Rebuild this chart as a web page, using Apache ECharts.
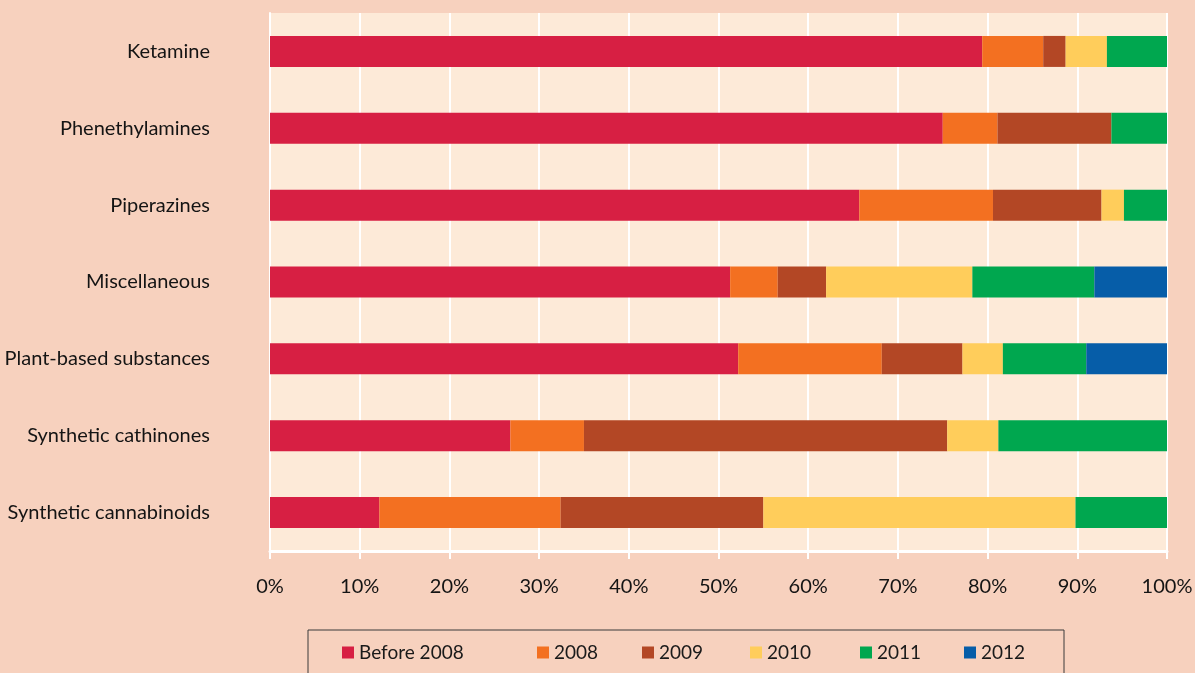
<!DOCTYPE html>
<html>
<head>
<meta charset="utf-8">
<script src="https://cdn.jsdelivr.net/npm/echarts@6/dist/echarts.min.js"></script>
<style>
  html, body { margin: 0; padding: 0; background: #F7D1BE; }
  #chart { width: 1195px; height: 673px; }
</style>
</head>
<body>
<div id="chart"></div>
<script>
// categories listed top to bottom
const categories = [
  'Ketamine',
  'Phenethylamines',
  'Piperazines',
  'Miscellaneous',
  'Plant-based substances',
  'Synthetic cathinones',
  'Synthetic cannabinoids'
]
const seriesNames = ['Before 2008', '2008', '2009', '2010', '2011', '2012']
const before2008 = [79.4, 75.0, 65.7, 51.3, 52.2, 26.8, 12.2]
const y2008 = [6.8, 6.1, 14.9, 5.3, 16.0, 8.2, 20.2]
const y2009 = [2.5, 12.7, 12.1, 5.4, 9.0, 40.5, 22.6]
const y2010 = [4.6, 0, 2.5, 16.3, 4.5, 5.7, 34.8]
const y2011 = [6.7, 6.2, 4.8, 13.6, 9.3, 18.8, 10.2]
const y2012 = [0, 0, 0, 8.1, 9.0, 0, 0]
const xTicks = [0, 10, 20, 30, 40, 50, 60, 70, 80, 90, 100]

const colors = ['#D71F43', '#F37021', '#B34725', '#FFCD5B', '#00A74F', '#065DA8']
const values = [before2008, y2008, y2009, y2010, y2011, y2012]

// width of each legend label box, so the items line up like the original
const legendWidths = [178, 88, 91, 93, 87, 60]

const myChart = echarts.init(document.getElementById('chart'))

const fontFamily = 'Lato, sans-serif'

const legendRich = {}
legendWidths.forEach((w, i) => {
  legendRich['w' + i] = { width: w, fontSize: 19, lineHeight: 20, color: '#1a1a1a', fontFamily }
})

const options = {
  backgroundColor: '#F7D1BE',
  color: colors,
  animation: false,
  legend: {
    left: 308,
    top: 630,
    orient: 'horizontal',
    icon: 'rect',
    itemWidth: 12,
    itemHeight: 12,
    itemGap: 0,
    borderColor: '#3a3a3a',
    borderWidth: 1,
    padding: [13, 23, 30, 34],
    textStyle: {
      fontFamily,
      fontSize: 19,
      color: '#1a1a1a',
      rich: legendRich
    },
    formatter: name => `{w${seriesNames.indexOf(name)}|${name}}`,
    data: seriesNames
  },
  grid: {
    left: 270,
    right: 28,
    top: 13,
    bottom: 122,
    outerBoundsMode: 'none',
    containLabel: false,
    show: true,
    backgroundColor: '#FDEAD8',
    borderWidth: 0
  },
  xAxis: {
    type: 'value',
    min: 0,
    max: 100,
    interval: 10,
    axisLine: {
      show: true,
      lineStyle: { color: '#ffffff', width: 3 }
    },
    axisTick: {
      show: true,
      length: 8,
      lineStyle: { color: '#ffffff', width: 2 }
    },
    splitLine: {
      show: true,
      lineStyle: { color: '#ffffff', width: 2 }
    },
    axisLabel: {
      margin: 26,
      fontFamily,
      fontSize: 20,
      color: '#141414',
      formatter: v => (xTicks.includes(v) ? v + '%' : '')
    }
  },
  yAxis: {
    type: 'category',
    inverse: true,
    data: categories,
    axisLine: {
      show: true,
      lineStyle: { color: '#ffffff', width: 2 }
    },
    axisTick: { show: false },
    axisLabel: {
      margin: 60,
      fontFamily,
      fontSize: 20,
      color: '#141414',
      padding: [5, 0, 0, 0]
    }
  },
  series: seriesNames.map((name, i) => ({
    name,
    type: 'bar',
    stack: 'total',
    barWidth: 31,
    data: values[i]
  }))
}
myChart.setOption(options)
</script>
</body>
</html>
